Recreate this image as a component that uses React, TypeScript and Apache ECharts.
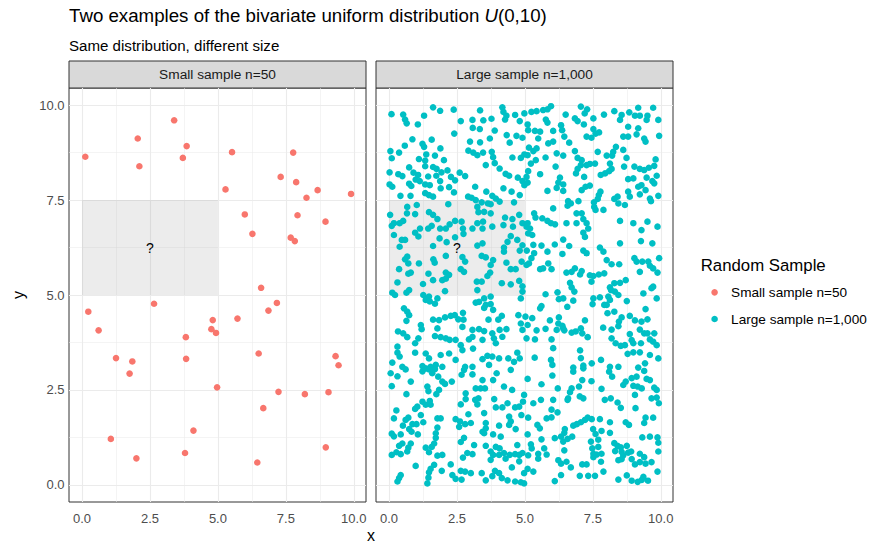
import { useEffect, useRef } from "react";
import * as echarts from "echarts";

// ---------- data ----------
const smallSample: [number, number][] = [
  [0.12, 8.64], [2.05, 9.12], [3.39, 9.6], [3.85, 8.92], [2.11, 8.39], [3.71, 8.61], [5.52, 8.76], [7.77, 8.75],
  [7.31, 8.11], [7.88, 7.97], [5.28, 7.78], [8.67, 7.76], [9.9, 7.66], [8.26, 7.56], [5.99, 7.12], [7.93, 7.1],
  [8.96, 6.93], [6.27, 6.61], [7.68, 6.51], [7.83, 6.42], [6.59, 5.19], [2.65, 4.77], [7.17, 4.79], [0.23, 4.56],
  [6.86, 4.59], [5.72, 4.38], [4.81, 4.34], [0.61, 4.07], [4.76, 4.1], [4.93, 4.0], [3.82, 3.89], [6.5, 3.46],
  [1.25, 3.34], [1.85, 3.25], [3.83, 3.32], [9.33, 3.39], [9.44, 3.15], [1.75, 2.93], [4.97, 2.57], [7.23, 2.45],
  [8.2, 2.39], [9.07, 2.44], [6.67, 2.02], [4.1, 1.43], [1.06, 1.21], [3.79, 0.84], [8.97, 0.99], [2.0, 0.7],
  [6.45, 0.59],
];

const largeSample: [number, number][] = [
  [0.09,9.76],[1.62,9.94],[1.88,9.85],[2.38,9.88],[3.35,9.86],[4.17,9.94],[4.21,9.82],[0.52,9.75],[1.29,9.72],[4.32,9.72],[4.64,9.74],[4.98,9.78],[3.07,9.61],[2.64,9.58],[3.47,9.6],[3.77,9.64],[4.27,9.62],[4.81,9.58],[0.59,9.62],[0.65,9.52],[1.06,9.49],
  [3.08,9.4],[3.34,9.37],[3.89,9.33],[2.4,9.25],[4.33,9.21],[4.69,9.19],[4.91,9.14],[0.86,9.1],[1.57,9.09],[1.23,8.98],[1.29,8.9],[0.58,8.93],[2.98,9.04],[3.35,9.02],[3.71,9.12],[4.44,9.01],
  [1.89,8.86],[0.05,8.79],[0.37,8.75],[0.1,8.6],[1.37,8.7],[1.69,8.67],[1.1,8.58],[1.33,8.54],[2.02,8.55],[2.92,8.8],[3.1,8.75],[3.25,8.68],[3.46,8.75],[3.78,8.77],[3.83,8.63],[4.54,8.62],[4.85,8.61],[4.98,8.7],[3.56,8.42],[3.89,8.47],
  [0.74,8.36],[1.33,8.39],[1.62,8.37],[1.75,8.32],[1.93,8.23],[2.15,8.28],[0.02,8.23],[0.34,8.18],[0.49,8.13],[0.9,8.22],[1.07,8.16],[0.98,8.04],[1.13,8.0],[1.44,8.12],[1.74,8.14],[2.28,8.11],[2.43,8.02],[2.6,8.22],[2.8,8.13],[4.07,8.33],[4.29,8.19],[4.42,8.14],[4.74,8.09],[4.91,8.0],[0.02,7.91],[0.12,7.85],[0.74,7.93],[0.82,7.87],[1.33,7.91],[1.5,7.89],
  [1.88,8.0],[1.9,7.81],[2.21,7.84],[2.39,7.7],[3.17,7.85],[3.58,7.72],[4.21,7.81],[4.51,7.72],[4.98,7.89],[0.42,7.61],[0.79,7.61],[1.33,7.68],[1.47,7.63],[1.62,7.59],[2.91,7.59],[3.04,7.56],[3.19,7.5],[3.41,7.44],[3.64,7.41],[3.8,7.61],[3.93,7.54],[4.07,7.46],[4.6,7.44],[4.81,7.63],[0.67,7.32],[1.02,7.37],[2.18,7.39],[3.25,7.32],[3.74,7.39],
  [0.66,7.15],[0.04,7.11],[0.96,7.13],[1.47,7.18],[1.62,7.11],[1.78,7.0],[3.29,7.18],[3.5,7.19],[3.74,7.15],[4.79,7.11],[4.27,7.04],[4.54,7.0],[0.18,6.89],[0.1,6.82],[0.39,6.89],[0.52,6.95],[1.14,6.75],[1.44,6.75],[1.57,6.82],[1.88,6.75],[2.09,6.75],[2.23,6.86],[2.43,6.95],[2.67,6.93],[2.72,6.75],[3.25,6.89],[3.46,6.93],[3.8,6.8],[4.21,6.84],[4.56,6.8],[4.91,6.89],[3.07,6.75],[3.44,6.75],
  [5.24,9.82],[5.43,9.84],[5.67,9.87],[5.83,9.89],[5.96,9.97],[5.77,9.62],[5.83,9.54],[6.5,9.75],[7.06,9.96],[7.29,9.89],[7.2,9.78],[6.84,9.65],[6.94,9.58],[7.17,9.49],[7.52,9.65],[7.91,9.75],[8.29,9.84],[8.56,9.74],[8.5,9.61],[8.84,9.81],[9.05,9.72],[9.17,9.93],[9.23,9.72],[9.51,9.72],[9.72,9.93],[9.91,9.61],[9.48,9.61],[8.8,9.43],[9.17,9.39],[5.1,9.49],[5.12,9.34],[5.37,9.32],[5.56,9.3],[6.04,9.32],[6.33,9.47],[6.37,9.34],[6.45,9.17],[6.63,9.01],[5.86,8.99],[6.04,9.04],[5.49,9.12],[7.27,9.17],[7.45,9.14],[7.6,9.25],[7.73,9.28],[7.52,9.37],[8.62,9.17],[8.8,9.17],[9.11,9.23],[9.39,9.12],[9.44,9.04],[9.94,9.19],
  [5.15,8.88],[5.1,8.68],[5.31,8.79],[5.43,8.86],[5.22,8.46],[5.4,8.55],[5.76,8.62],[6.17,8.73],[6.41,8.67],[6.84,8.79],[6.94,8.61],[7.09,8.55],[7.06,8.42],[6.94,8.32],[6.88,8.2],[7.27,8.42],[7.39,8.45],[7.58,8.46],[7.68,8.77],[8.01,8.67],[8.13,8.46],[8.21,8.67],[8.35,8.9],[8.25,8.77],[8.62,8.82],[8.74,8.61],[8.65,8.38],[9.03,8.38],[9.23,8.32],[9.39,8.29],[9.56,8.35],[9.76,8.4],[9.81,8.57],[6.13,8.38],[5.12,8.26],[5.56,8.18],
  [5.06,8.11],[5.1,7.96],[6.29,8.09],[6.23,7.96],[6.41,7.91],[7.18,8.11],[7.23,7.85],[7.39,7.88],[7.79,8.16],[7.95,8.2],[8.1,8.26],[8.19,8.32],[8.8,8.05],[8.99,8.07],[9.48,8.09],[9.85,8.14],[9.69,8.0],[9.76,7.94],[9.17,7.85],[9.29,7.89],[9.23,7.65],[9.44,7.76],[5.83,7.74],[6.17,7.82],[6.41,7.74],[7.09,7.76],[7.78,7.72],[7.72,7.63],[7.68,7.53],[7.54,7.44],[7.55,7.32],[7.6,7.24],[7.89,7.24],[6.97,7.47],[6.59,7.47],[6.69,7.41],[6.57,7.35],[8.8,7.72],[8.41,7.59],[8.29,7.53],[8.44,7.41],[8.68,7.37],[8.86,7.59],[9.6,7.54],[9.64,7.47],[9.91,7.61],[6.04,7.28],
  [5.34,7.15],[5.39,7.04],[5.64,7.02],[5.83,6.95],[5.96,6.89],[6.11,6.86],[5.1,6.89],[5.19,6.75],[5.06,6.8],[6.53,6.89],[6.9,7.15],[7.09,7.15],[7.15,7.0],[6.9,6.89],[7.27,6.89],[7.33,6.75],[8.5,6.95],[8.99,6.89],[9.29,6.71],[9.51,6.93],[9.88,6.8],
  [0.18,6.58],[0.47,6.45],[0.59,6.45],[0.39,6.27],[1.08,6.54],[1.62,6.29],[1.86,6.49],[2.12,6.39],[2.43,6.52],[2.74,6.61],[3.25,6.3],[3.44,6.36],[4.36,6.4],[4.23,6.25],[4.48,6.55],[4.72,6.45],[4.81,6.17],[4.91,6.31],[0.96,6.64],
  [0.67,6.01],[0.59,5.94],[0.71,5.83],[1.1,5.83],[1.63,5.94],[1.68,5.85],[2.09,6.03],[2.7,6.0],[2.8,5.88],[3.41,6.03],[3.56,5.99],[3.83,5.92],[3.74,5.79],[4.32,5.85],[4.23,6.14],[4.88,5.88],[0.37,5.68],[0.8,5.59],[0.71,5.56],[1.45,5.56],[2.09,5.59],[2.21,5.53],[2.64,5.68],[2.76,5.61],[4.48,5.68],[4.66,5.68],[3.72,5.59],[3.62,5.5],
  [1.62,5.39],[1.96,5.39],[2.09,5.43],[1.25,5.29],[0.31,5.33],[0.74,5.13],[0.64,5.06],[0.12,5.06],[0.22,5.0],[2.06,5.1],[3.23,5.35],[3.41,5.35],[3.25,5.13],[4.15,5.31],[4.48,5.28],[4.79,5.37],[4.91,5.23],[4.91,5.09],[4.85,4.91],[1.26,5.0],[1.47,4.96],
  [1.35,4.87],[1.5,4.83],[1.78,4.91],[1.69,4.77],[3.19,4.8],[3.31,4.82],[3.5,4.91],[3.74,4.96],[3.56,4.74],[3.5,4.66],[3.74,4.76],[3.83,4.61],[0.55,4.65],[0.67,4.56],[0.74,4.47],[0.64,4.32],[2.72,4.53],[2.42,4.47],[2.27,4.45],[2.06,4.41],[1.84,4.34],[1.62,4.35],[2.55,4.36],[2.74,4.35],[3.66,4.35],[4.02,4.35],[4.76,4.47],[4.85,4.25],[4.15,4.45],
  [1.17,4.21],[1.2,4.1],[1.78,4.12],[2.7,4.16],[3.07,4.08],[3.31,4.1],[3.5,4.05],[3.8,3.99],[4.07,4.08],[4.32,4.1],[4.91,4.08],[0.33,4.04],[0.52,3.99],[0.67,3.89],[1.08,3.86],[1.69,3.92],[1.9,3.89],[2.09,3.86],[2.23,3.82],[2.45,3.82],[2.94,3.83],[3.07,3.9],[3.44,3.82],[3.86,3.86],[4.17,3.9],[3.93,3.73],[0.96,3.73],[2.64,3.68],
  [0.31,3.64],[0.31,3.48],[0.39,3.38],[0.12,3.22],[0.96,3.48],[1.35,3.46],[1.47,3.33],[1.9,3.42],[2.21,3.46],[2.45,3.29],[2.7,3.55],[3.09,3.59],[3.44,3.31],[3.62,3.4],[3.68,3.16],[3.8,3.38],[4.05,3.33],[4.39,3.33],[4.6,3.24],[4.72,3.48],[1.23,3.13],[1.53,3.11],[1.72,3.16],[1.96,3.11],[2.8,3.11],[3.07,3.11],[0.49,3.11],[4.81,3.33],
  [5.12,6.62],[5.27,6.58],[5.31,6.32],[5.61,6.3],[5.83,6.14],[6.1,6.33],[6.41,6.46],[6.63,6.29],[6.38,6.08],[7.15,6.64],[7.21,6.53],[7.15,6.17],[7.27,6.1],[7.76,6.25],[7.89,6.14],[8.5,6.36],[9.27,6.42],[9.69,6.36],
  [5.07,6.17],[5.34,6.1],[5.24,5.97],[5.15,5.83],[5.06,5.79],[5.86,5.83],[5.98,5.68],[5.56,5.68],[5.67,5.7],[8.01,5.92],[8.19,5.81],[8.47,5.81],[9.03,5.97],[9.11,5.88],[9.32,5.88],[9.54,5.88],[9.94,5.97],[9.6,5.77],[9.23,5.61],[9.72,5.7],[9.88,5.59],[6.84,5.7],[6.72,5.61],[6.53,5.59],[7.09,5.63],[7.03,5.54],[7.72,5.54],[7.92,5.57],[7.52,5.5],[7.39,5.52],
  [7.45,5.35],[6.66,5.32],[6.72,5.2],[6.82,5.09],[8.13,5.2],[8.29,5.31],[8.5,5.32],[8.71,5.39],[8.17,5.13],[8.31,5.09],[8.44,5.0],[9.66,5.18],[9.72,5.22],[9.36,5.04],[5.76,5.02],[6.2,5.07],[6.25,4.89],[6.41,4.91],[6.78,4.85],[7.52,4.91],[7.76,4.94],[8.07,4.96],[8.13,4.87],[8.75,4.84],[9.85,4.91],
  [7.49,4.76],[6.56,4.69],[5.61,4.71],[5.56,4.65],[8.01,4.74],[8.29,4.56],[8.04,4.52],[7.92,4.74],[9.44,4.63],[8.56,4.41],[8.46,4.3],[8.86,4.45],[9.05,4.33],[9.29,4.3],[9.51,4.36],[5.02,4.43],[5.27,4.39],[5.1,4.21],[5.92,4.33],[6.25,4.41],[6.23,4.25],[6.38,4.19],[6.41,4.12],[7.21,4.33],
  [5.76,4.11],[5.43,4.07],[6.17,4.08],[6.45,4.07],[6.72,4.01],[6.87,4.04],[7.06,4.12],[7.11,3.99],[7.31,3.89],[7.88,4.14],[8.19,4.09],[8.44,4.18],[9.23,4.09],[9.39,3.99],[9.51,3.99],[9.76,3.99],[5.06,3.86],[5.37,3.83],[5.98,3.83],[8.19,3.86],[8.34,3.73],[8.53,3.66],[8.68,3.68],[8.93,3.81],[8.99,3.73],[9.6,3.83],[9.72,3.77],[9.85,3.68],[9.27,3.73],[8.86,3.97],
  [6.04,3.6],[7.03,3.54],[7.06,3.34],[8.78,3.45],[8.99,3.49],[9.23,3.49],[9.6,3.42],[9.91,3.33],[5.36,3.35],[5.96,3.29],[6.01,3.16],[7.46,3.2],[7.8,3.29],[8.13,3.11],[9.42,3.2],[8.44,3.11],[7.15,3.14],[6.78,3.09],[9.17,3.09],
  [0.06,2.94],[0.61,3.04],[0.31,2.86],[0.1,2.6],[1.23,2.99],[1.35,3.07],[1.47,3.04],[1.69,3.05],[1.59,2.94],[1.81,2.85],[1.96,2.72],[2.06,2.66],[2.31,2.72],[0.8,2.72],[1.41,2.59],[1.45,2.47],[1.84,2.5],[1.74,2.39],[0.64,2.39],[2.76,3.03],[2.67,2.9],[3.07,2.91],[3.44,2.76],[3.37,2.54],[3.19,2.54],[3.53,2.54],[3.96,2.94],[3.83,2.76],[4.48,3.03],[4.23,2.59],[4.53,2.5],[4.97,2.37],[2.82,2.41],
  [1.23,2.19],[1.04,2.06],[1.35,2.11],[1.53,2.11],[1.5,2.21],[0.96,2.0],[0.27,1.96],[2.64,2.12],[2.82,2.26],[3.17,2.24],[3.29,2.28],[3.25,2.12],[3.87,2.26],[3.93,2.04],[4.17,2.04],[4.36,2.15],[4.64,2.04],[4.79,2.06],[4.93,2.19],[3.5,1.89],[2.92,1.86],
  [0.18,1.75],[0.71,1.77],[0.61,1.71],[0.51,1.56],[0.86,1.6],[1.01,1.6],[1.26,1.65],[1.17,1.84],[1.78,1.75],[1.9,1.75],[2.45,1.73],[2.61,1.67],[2.8,1.6],[3.01,1.63],[3.56,1.63],[3.56,1.49],[3.5,1.36],[3.44,1.4],[4.05,1.56],[4.42,1.8],[4.48,1.67],[4.42,1.58],[4.87,1.84],[4.66,1.47],[0.74,1.47],[0.83,1.4],[1.06,1.33],[1.78,1.51],[1.72,1.36],[2.58,1.53],[3.83,1.33],[4.11,1.27],[0.1,1.35],[0.18,1.28],[0.43,1.33],
  [0.49,1.09],[0.8,1.09],[0.71,0.98],[0.67,0.88],[0.37,1.03],[0.27,0.86],[0.1,0.79],[0.43,0.81],[1.72,1.24],[1.66,1.09],[1.57,1.0],[1.35,0.98],[1.47,0.86],[1.78,0.77],[1.96,0.79],[2.76,1.24],[2.64,1.13],[3.13,1.05],[3.56,1.03],[3.93,1.0],[4.07,0.96],[4.72,1.05],[2.88,0.84],[2.72,0.72],[3.07,0.81],[3.74,0.88],[3.83,0.79],[3.74,0.66],[4.05,0.79],[4.23,0.84],[4.29,0.69],[4.44,0.79],[4.64,0.81],[4.79,0.79],[4.91,0.84],[4.79,0.62],[4.52,0.46],
  [0.98,0.5],[0.43,0.26],[0.37,0.18],[0.31,0.09],[1.66,0.53],[1.53,0.42],[1.47,0.33],[1.45,0.19],[1.41,0.04],[1.94,0.37],[2.27,0.54],[2.33,0.26],[2.45,0.16],[2.64,0.37],[2.8,0.35],[3.01,0.31],[3.41,0.31],[3.56,0.12],[3.9,0.37],[4.05,0.31],[4.15,0.18],[4.36,0.12],[4.64,0.09],[4.85,0.07],[4.97,0.04],[4.97,0.31],[3.8,0.23],[2.67,0.14],
  [6.01,2.88],[6.78,2.98],[7.15,3.07],[5.1,2.79],[5.61,2.65],[6.21,2.54],[7.11,2.76],[7.45,2.73],[6.99,2.59],[6.72,2.54],[6.66,2.44],[6.59,2.28],[6.57,2.24],[7.02,2.33],[7.15,2.28],[7.82,2.53],[8.1,2.98],[8.21,2.85],[8.62,2.63],[8.71,2.72],[8.93,2.81],[9.11,2.85],[9.39,3.0],[9.48,2.79],[9.6,2.76],[8.99,2.61],[9.15,2.59],[9.3,2.54],[9.76,2.56],[9.85,2.5],[9.05,2.37],[9.66,2.28],[9.85,2.3],[9.93,2.15],
  [5.31,2.15],[5.59,2.24],[6.04,2.24],[6.2,1.91],[5.98,1.98],[7.94,2.24],[8.16,2.28],[8.41,2.17],[8.53,2.03],[9.07,2.02],[5.12,1.77],[5.8,1.75],[5.98,1.78],[7.31,1.77],[7.46,1.73],[7.21,1.71],[7.06,1.65],[6.91,1.6],[6.78,1.56],[7.76,1.73],[8.13,1.65],[9.44,1.77],[9.39,1.63],[9.72,1.77],[8.71,1.65],[8.83,1.58],
  [5.46,1.58],[5.55,1.49],[6.47,1.47],[6.45,1.37],[5.1,1.33],[6.1,1.23],[6.33,1.27],[6.41,1.14],[6.57,1.21],[6.74,1.27],[7.51,1.47],[7.6,1.34],[7.7,1.19],[7.82,1.42],[8.13,1.37],[7.43,1.14],[9.32,1.25],[9.6,1.27],[9.88,1.25],[9.91,1.11],[9.91,0.88],[5.61,1.2],[5.22,1.07],[5.25,0.96],[5.71,0.96],[6.45,0.91],[7.48,0.96],[7.7,1.0],[8.29,1.1],[8.41,1.03],[8.53,0.99],[8.75,1.03],[8.32,0.89],[8.56,0.87],
  [5.12,0.78],[5.49,0.82],[5.8,0.8],[5.49,0.69],[6.23,0.65],[6.33,0.56],[6.53,0.61],[6.69,0.46],[7.52,0.82],[7.52,0.73],[7.64,0.8],[7.82,0.82],[7.8,0.61],[7.89,0.35],[7.11,0.54],[7.27,0.54],[7.02,0.24],[7.33,0.24],[7.58,0.24],[8.44,0.65],[8.62,0.78],[8.8,0.85],[8.91,0.88],[8.56,0.68],[8.93,0.68],[9.23,0.82],[9.39,0.73],[9.05,0.54],[9.23,0.6],[9.44,0.56],[9.66,0.6],[9.88,0.35],[5.1,0.42],[5.31,0.35],[6.1,0.1],[6.33,0.26],[8.44,0.14],[8.75,0.25],[8.93,0.11],[9.15,0.08],[9.36,0.21],[9.53,0.11],[9.3,0.13],
];

const majorTicks = [0, 2.5, 5, 7.5, 10];
const minorTicks = [1.25, 3.75, 6.25, 8.75];
const panelNames = ["Small sample n=50", "Large sample n=1,000"];
const seriesColors = ["#F8766D", "#00BFC4"];
const highlightX = [0, 5];
const highlightY = [5, 7.5];
const highlightLabel = "?";
const axisRange = { xMin: -0.48, xMax: 10.45, yMin: -0.45, yMax: 10.45 };

const titleText = "Two examples of the bivariate uniform distribution {i|U}(0,10)";
const subtitleText = "Same distribution, different size";
const legendTitle = "Random Sample";

const FONT = "'Liberation Sans', Arial, Helvetica, sans-serif";

export default function App() {
  const ref = useRef<HTMLDivElement>(null);

  useEffect(() => {
    if (!ref.current) return;
    const chart = echarts.init(ref.current, null, { renderer: "svg" });

    const panels = [
      { left: 69, top: 88, width: 297, height: 414 },
      { left: 376, top: 88, width: 297, height: 414 },
    ];

    const gridLines = [
      ...majorTicks.map((v) => ({ xAxis: v, lineStyle: { color: "#EBEBEB", width: 1.1, type: "solid" } })),
      ...minorTicks.map((v) => ({ xAxis: v, lineStyle: { color: "#EBEBEB", width: 0.55, type: "solid" } })),
      ...majorTicks.map((v) => ({ yAxis: v, lineStyle: { color: "#EBEBEB", width: 1.1, type: "solid" } })),
      ...minorTicks.map((v) => ({ yAxis: v, lineStyle: { color: "#EBEBEB", width: 0.55, type: "solid" } })),
    ];

    const datasets = [smallSample, largeSample];

    const option: any = {
      animation: false,
      backgroundColor: "#FFFFFF",
      textStyle: { fontFamily: FONT },
      grid: panels.map((p) => ({
        ...p,
        show: true,
        borderColor: "#333333",
        borderWidth: 1,
        backgroundColor: "transparent",
        containLabel: false,
      })),
      xAxis: panels.map((_, i) => ({
        type: "value",
        gridIndex: i,
        min: axisRange.xMin,
        max: axisRange.xMax,
        axisLine: { show: false },
        splitLine: { show: false },
        axisTick: {
          show: true,
          customValues: majorTicks,
          length: 3.7,
          lineStyle: { color: "#333333", width: 1 },
        },
        axisLabel: {
          customValues: majorTicks,
          formatter: (v: number) => v.toFixed(1),
          color: "#4D4D4D",
          fontSize: 13,
          fontFamily: FONT,
          margin: 9.5,
        },
      })),
      yAxis: panels.map((_, i) => ({
        type: "value",
        gridIndex: i,
        min: axisRange.yMin,
        max: axisRange.yMax,
        axisLine: { show: false },
        splitLine: { show: false },
        axisTick: {
          show: i === 0,
          customValues: majorTicks,
          length: 3.7,
          lineStyle: { color: "#333333", width: 1 },
        },
        axisLabel: {
          show: i === 0,
          customValues: majorTicks,
          formatter: (v: number) => v.toFixed(1),
          color: "#4D4D4D",
          fontSize: 13,
          fontFamily: FONT,
          margin: 4.5,
        },
      })),
      legend: {
        show: true,
        orient: "vertical",
        left: 711.3,
        top: 284.3,
        padding: 0,
        itemGap: 10.7,
        itemWidth: 23,
        itemHeight: 6.6,
        icon: "circle",
        data: panelNames,
        textStyle: { fontSize: 13.6, color: "#000000", fontFamily: FONT, lineHeight: 16 },
      },
      series: datasets.map((d, i) => ({
        type: "scatter",
        name: panelNames[i],
        xAxisIndex: i,
        yAxisIndex: i,
        data: d,
        symbol: "circle",
        symbolSize: 6.6,
        itemStyle: { color: seriesColors[i], opacity: 1 },
        z: 3,
        silent: true,
        markLine: {
          silent: true,
          symbol: ["none", "none"],
          label: { show: false },
          z: 1,
          data: gridLines,
        },
        markArea: {
          silent: true,
          z: 2,
          itemStyle: { color: "rgba(140,140,140,0.17)" },
          label: {
            show: true,
            position: "inside",
            formatter: highlightLabel,
            color: "#000000",
            fontSize: 14,
            fontFamily: FONT,
          },
          data: [[
            { xAxis: highlightX[0], yAxis: highlightY[0] },
            { xAxis: highlightX[1], yAxis: highlightY[1] },
          ]],
        },
      })),
      graphic: [
        {
          type: "text",
          x: 69,
          y: 15.2,
          style: {
            text: titleText,
            fill: "#000000",
            font: `18.7px ${FONT}`,
            verticalAlign: "middle",
            align: "left",
            rich: { i: { fontStyle: "italic", fontSize: 18.7, fontFamily: FONT, fill: "#000000" } },
          },
        },
        {
          type: "text",
          x: 69,
          y: 45.4,
          style: { text: subtitleText, fill: "#000000", font: `15.1px ${FONT}`, verticalAlign: "middle", align: "left" },
        },
        ...panels.map((p, i) => ({
          type: "group",
          children: [
            {
              type: "rect",
              shape: { x: p.left, y: 61, width: p.width, height: 27 },
              style: { fill: "#D9D9D9", stroke: "#333333", lineWidth: 1 },
            },
            {
              type: "text",
              x: p.left + p.width / 2,
              y: 74.3,
              style: {
                text: panelNames[i],
                fill: "#1A1A1A",
                font: `13.7px ${FONT}`,
                align: "center",
                verticalAlign: "middle",
              },
            },
          ],
        })),
        {
          type: "text",
          x: 371,
          y: 535.8,
          style: { text: "x", fill: "#000000", font: `16px ${FONT}`, align: "center", verticalAlign: "middle" },
        },
        {
          type: "text",
          x: 18,
          y: 295,
          rotation: Math.PI / 2,
          style: { text: "y", fill: "#000000", font: `16px ${FONT}`, align: "center", verticalAlign: "middle" },
        },
        {
          type: "text",
          x: 700.7,
          y: 265.8,
          style: { text: legendTitle, fill: "#000000", font: `16.8px ${FONT}`, align: "left", verticalAlign: "middle" },
        },
      ],
    };

    chart.setOption(option);
    return () => chart.dispose();
  }, []);

  return (
    <div
      ref={ref}
      style={{ position: "absolute", left: 0, top: 0, width: 870, height: 544 }}
    />
  );
}
